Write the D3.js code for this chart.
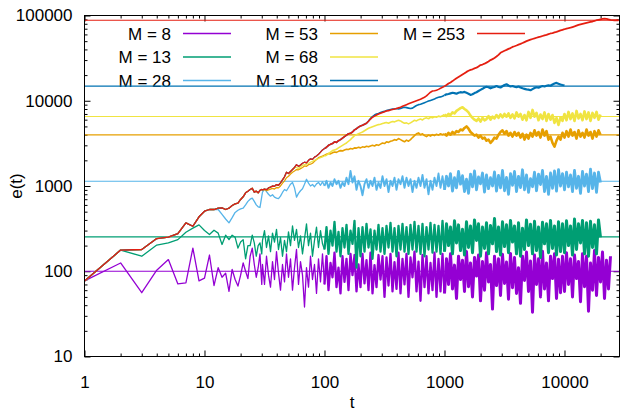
<!DOCTYPE html>
<html>
<head>
<meta charset="utf-8">
<script src="https://cdn.jsdelivr.net/npm/d3@7"></script>
<style>
  body { margin: 0; background: #fff; }
  svg { display: block; }
  text { font-family: "Liberation Sans", Arial, sans-serif; font-size: 17px; fill: #000; }
</style>
</head>
<body>
<svg id="chart" width="625" height="411"></svg>
<script>
// Run sizes, colours and the saturation level reached by each run
const sizes = [8, 13, 28, 53, 68, 103, 253];
const colors = ["#9400d3", "#009e73", "#56b4e9", "#e69f00", "#f0e442", "#0072b2", "#e51e10"];
const plateau = [100, 253, 1138, 3980, 6530, 14830, 88100];
const xTickLabels = ["1", "10", "100", "1000", "10000"];
const yTickLabels = ["10", "100", "1000", "10000", "100000"];

// Output times: every step up to t = 30, then 60 log-spaced records per decade
const tEarly = d3.range(1, 31);
const tLate = d3.range(89, 269).map(k => Math.pow(10, k / 60));
const times = tEarly.concat(tLate);

// e(t) per run, one value per output time (blocks: t<=30 | 30-100 | 100-1000 | 1000-10000 | >10000)
const e8 = [
  77,125,56,103,137,71,73,187,77,83, 155,68,110,85,95,58,105,80,67,90, 125,100,82,150,187,120,85,110,160,70,
  120,70,150,90,65,130,80,170,95,60, 120,75,160,85,140,60,110,180,70,130, 90,38,110,65,150,80,120,55,140,75, 160,
  70,150,60,125,85,165,65,110,55,150, 75,140,60,160,90,155,58,120,65,160, 72,135,60,165,55,118,65,155,80,150,
  50,145,68,160,58,128,62,165,55,140, 70,160,50,145,85,170,58,130,45,155, 65,150,55,125,60,165,50,140,58,160,
  55,140,70,160,62,118,48,150,80,135, 58,170,66,125,50,145,88,155,45,130, 60,165,75,120,36,150,68,140,52,158,
  72,128,47,162,64,145,55,110,42,150, 78,168,58,132,33,155,70,140,50,172, 62,125,45,150,82,160,48,138,56,150,
  58,165,70,140,50,155,82,130,44,160, 66,150,34,125,60,175,52,145,75,168, 48,135,62,150
];
const e13 = [
  77,177,150,203,215,235,287,320,350,300, 270,303,280,206,265,235,265,250,187,220, 235,140,200,200,265,215,150,200,215,160,
  230,300,190,260,170,280,220,310,180,250, 150,230,170,290,200,340,230,310,190,260, 160,240,360,200,280,150,230,330,190,300, 210,
  180,330,160,300,200,380,170,290,150,320, 190,350,160,300,210,390,110,320,150,330, 170,360,190,310,140,300,180,350,170,320,
  160,340,190,370,170,320,150,340,180,360, 170,330,160,350,180,380,170,340,160,360, 150,330,180,370,165,350,170,340,160,390,
  170,360,200,330,160,390,215,350,175,310, 155,380,190,340,165,400,230,360,150,330, 185,370,160,345,210,415,170,330,155,380,
  195,350,165,395,220,340,160,370,150,320, 180,400,200,355,160,385,175,330,145,375, 210,360,165,395,185,340,155,380,170,360,
  165,390,200,340,155,410,180,360,215,395, 160,370,150,385,190,350,160,400,250
];
const e28 = [
  77,177,180,242,251,277,370,337,435,506, 530,530,530,465,410,370,425,490,520,540, 550,600,660,700,720,660,600,570,560,750,
  850,920,860,800,760,790,740,720,710,760, 840,910,880,960,1050,1100,950,740,820,880, 930,1050,1200,1080,1000,1040,980,1060,1100,1020, 1120,
  1000,1150,950,1100,1000,1200,1050,1150,950,1100, 1000,1250,1050,1500,1100,1300,900,1150,1000,780, 1050,1200,950,1150,1000,1250,900,1100,950,1300,
  1000,1200,850,1150,1000,1250,900,1200,1050,1300, 950,1250,1000,1200,850,1150,950,1250,1000,1350, 950,1200,800,1150,900,1250,1000,1400,950,1300,
  900,1300,1000,1400,870,1250,950,1480,1050,1320, 860,1200,820,1380,980,1500,900,1280,1060,1420, 850,1350,930,1250,1000,1460,870,1330,950,1520,
  880,1260,800,1400,1020,1480,860,1300,960,1550, 900,1350,840,1220,980,1450,880,1380,1040,1520, 860,1300,800,1420,940,1500,870,1560,1000,1400,
  900,1450,980,1350,860,1520,940,1300,820,1480, 1000,1380,860,1580,930,1420,840,1450,1100
];
const e53 = [
  77,177,180,242,251,277,370,337,435,506, 530,530,549,555,530,550,590,618,630,695, 747,832,870,910,940,847,870,832,890,910,
  900,910,880,900,920,940,920,960,950,1000, 1080,1150,1250,1300,1380,1450,1500,1560,1550,1600, 1650,1720,1700,1780,1800,1850,1950,2050,2150,2200, 2250,
  2300,2350,2400,2380,2450,2500,2480,2550,2600,2580, 2650,2700,2680,2750,2720,2800,2780,2850,2800,2880, 2850,2920,2880,2950,3000,2950,3050,3000,3100,3200,
  3150,3300,3250,3350,3400,3500,3450,3600,3500,3400, 3300,3450,3350,3500,3700,3900,4100,4200,4000,4100, 3900,3800,3950,3850,4000,3900,4050,3950,4100,4000,
  4100,3900,4200,4000,4300,4100,4400,4300,4600,4500, 4800,5000,4700,4300,4100,3900,4000,3700,3900,3600, 3700,3400,3500,3200,3400,3700,3600,4000,4300,4500,
  4100,4400,3900,4200,3800,4300,3900,4200,3700,4100, 3500,4000,3600,4200,3800,4500,3900,4300,3700,4600, 3900,4400,3500,3800,3200,2900,3400,3800,3500,4200,
  3700,4400,3800,4600,3900,4300,3600,4500,3800,4200, 3700,4600,3900,4300,3600,4400,3800,4500,4000
];
const e68 = [
  77,177,180,242,251,277,370,337,435,506, 530,530,549,555,530,550,590,618,630,695, 747,832,870,910,940,847,870,832,890,910,
  900,920,905,950,970,1000,990,1040,1020,1090, 1180,1280,1450,1400,1480,1560,1650,1650,1600,1680, 1750,1780,1800,1850,1900,1950,2000,2050,2100,2150, 2200,
  2250,2300,2400,2500,2600,2650,2700,2800,2900,3000, 3100,3200,3350,3500,3700,3900,4000,4100,4200,4300, 4450,4600,4750,4850,4950,5050,5150,5250,5300,5400,
  5500,5550,5450,5600,5700,5650,5800,5900,5800,5600, 5450,5500,5350,5500,5700,5900,5800,6000,6100,5950, 6200,6300,6150,6400,6300,6500,6400,6600,6500,6700,
  6900,6600,7000,6800,7300,7100,7600,7900,8200,8400, 8000,7700,7300,6700,6300,6000,5800,6200,5700,6300, 5900,6100,6600,6000,6500,6200,6800,6300,6900,6400,
  7000,6500,7100,6300,6900,6200,7300,6500,7000,6000, 6800,5900,7400,6300,7800,6500,7200,5900,6900,6100, 7300,5800,7000,6000,6800,5500,6300,5200,6400,5800,
  7000,5900,7400,6100,7100,5800,7600,6200,7000,5900, 7500,6100,7300,5800,7200,6300,7400,6000,6900
];
const e103 = [
  77,177,180,242,251,277,370,337,435,506, 530,530,549,555,530,550,590,618,630,695, 747,832,870,910,940,847,870,832,890,910,
  900,920,905,950,970,1000,990,1040,1020,1090, 1180,1280,1450,1400,1480,1560,1650,1780,1700,1760, 1850,1900,1870,2000,2080,2050,2180,2250,2350,2500, 2650,
  2750,2850,3000,3080,3150,3300,3250,3400,3500,3650, 3800,3950,4100,4150,4300,4550,4700,4900,5050,5150, 5300,5450,5800,6200,6500,6800,7000,7100,7300,7400,
  7500,7700,7800,7900,8000,8000,8100,8000,8100,8300, 8400,8300,8200,8100,8200,8500,8800,9000,9100,9300, 9500,9700,9900,10100,10300,10500,10800,11000,11100,11300,
  11600,11900,12000,12200,12400,12300,12100,12400,12600,12500, 12700,12400,12100,11700,11900,12300,12600,13000,13400,13800, 14300,14600,14400,14000,14300,14500,14900,14500,14300,14800,
  15300,15600,15100,14700,14900,14600,14400,14700,14300,14000, 13800,13600,13500,13300,13700,14100,14400,14200,14600,14900, 14700,15000,15200,15000,15500,15900,16200,15800,15500,15300,
  15200
];
const e253 = [
  77,177,180,242,251,277,370,337,435,506, 530,530,549,555,530,550,590,618,630,695, 747,832,870,910,940,847,870,832,890,910,
  900,920,905,950,970,1000,990,1040,1020,1090, 1180,1280,1450,1400,1480,1560,1650,1780,1700,1760, 1850,1900,1870,2000,2080,2050,2180,2250,2350,2500, 2650,
  2750,2850,3000,3080,3150,3300,3250,3400,3500,3650, 3800,3950,4100,4150,4300,4550,4700,4900,5050,5150, 5300,5450,5750,6100,6400,6600,6800,7000,7150,7300,
  7450,7600,7650,7800,7900,8000,8100,8250,8400,8600, 8800,9000,9200,9400,9600,9800,10000,10200,10400,10700, 11000,11400,12000,12600,13000,13100,13300,13600,14000,14400,
  14800,15300,15900,16400,17000,17700,18400,19000,19600,20300, 21000,21800,22500,23000,23400,24000,24400,25300,26200,26600, 27200,28000,28900,30000,30800,31800,33000,34500,36500,37600,
  38600,39500,40600,41500,42800,43600,44500,45600,46500,47600, 48800,50000,51000,52000,53000,53800,54800,55800,56400,57500, 58600,59400,60500,61500,62300,63300,64200,65500,67000,68000,
  69000,70200,71000,72000,73200,74500,76000,77500,78800,80000, 81000,82000,83000,84000,85000,86500,88000,89000,90000,91000, 92000,91500,90000,89000,88500,88000,88200,87800
];
const runs = [e8, e13, e28, e53, e68, e103, e253];

const svg = d3.select("#chart");
const pL = 84.5, pR = 619.5, pT = 15.5, pB = 356.5;

const x = d3.scaleLog().domain([1, 28730]).range([pL, pR]);
const y = d3.scaleLog().domain([10, 100000]).range([pB, pT]);

const majorX = xTickLabels.map(Number);
const majorY = yTickLabels.map(Number);
const minorX = [], minorY = [];
for (let d = 1; d <= 10000; d *= 10) for (let m = 2; m <= 9; m++) if (d * m < 28730) minorX.push(d * m);
for (let d = 10; d < 100000; d *= 10) for (let m = 2; m <= 9; m++) minorY.push(d * m);

function styleAxis(g) {
  g.select(".domain").remove();
  g.selectAll("line").attr("stroke", "#000").attr("stroke-width", 1);
  g.selectAll("text").attr("font-family", null).attr("font-size", null);
}

// Major and minor ticks, pointing inward on all four sides
svg.append("g").attr("transform", `translate(0,${pB})`)
  .call(d3.axisBottom(x).tickValues(majorX).tickFormat((d, i) => xTickLabels[i]).tickSizeInner(-6).tickSizeOuter(0).tickPadding(19))
  .call(styleAxis);
svg.append("g").attr("transform", `translate(0,${pB})`)
  .call(d3.axisBottom(x).tickValues(minorX).tickFormat("").tickSizeInner(-3).tickSizeOuter(0)).call(styleAxis);
svg.append("g").attr("transform", `translate(0,${pT})`)
  .call(d3.axisTop(x).tickValues(majorX).tickFormat("").tickSizeInner(-6).tickSizeOuter(0)).call(styleAxis);
svg.append("g").attr("transform", `translate(0,${pT})`)
  .call(d3.axisTop(x).tickValues(minorX).tickFormat("").tickSizeInner(-3).tickSizeOuter(0)).call(styleAxis);
svg.append("g").attr("transform", `translate(${pL},0)`)
  .call(d3.axisLeft(y).tickValues(majorY).tickFormat((d, i) => yTickLabels[i]).tickSizeInner(-6).tickSizeOuter(0).tickPadding(12))
  .call(styleAxis);
svg.append("g").attr("transform", `translate(${pL},0)`)
  .call(d3.axisLeft(y).tickValues(minorY).tickFormat("").tickSizeInner(-3).tickSizeOuter(0)).call(styleAxis);
svg.append("g").attr("transform", `translate(${pR},0)`)
  .call(d3.axisRight(y).tickValues(majorY).tickFormat("").tickSizeInner(-6).tickSizeOuter(0)).call(styleAxis);
svg.append("g").attr("transform", `translate(${pR},0)`)
  .call(d3.axisRight(y).tickValues(minorY).tickFormat("").tickSizeInner(-3).tickSizeOuter(0)).call(styleAxis);

// Axis titles
svg.append("text").attr("x", (pL + pR) / 2).attr("y", 408).attr("text-anchor", "middle").text("t");
svg.append("text").attr("transform", `translate(22,${(pT + pB) / 2}) rotate(-90)`)
  .attr("text-anchor", "middle").text("e(t)");

// Key: three columns, three rows
const keyTextEnd = [171, 318, 465];
const keyRows = [33.5, 57, 80.5];
const key = svg.append("g");
sizes.forEach((m, i) => {
  const cx = keyTextEnd[Math.floor(i / 3)], cy = keyRows[i % 3];
  key.append("text").attr("x", cx).attr("y", cy).attr("dy", "0.36em").attr("text-anchor", "end").text(`M = ${m}`);
  key.append("line").attr("x1", cx + 12).attr("x2", cx + 60).attr("y1", cy).attr("y2", cy)
    .style("stroke", colors[i]).style("stroke-width", "1.3px");
});

// Plot area clip
svg.append("clipPath").attr("id", "plot").append("rect")
  .attr("x", pL).attr("y", pT).attr("width", pR - pL).attr("height", pB - pT);
const plot = svg.append("g").attr("clip-path", "url(#plot)");

// Saturation levels
plot.selectAll("line.level").data(plateau).join("line").attr("class", "level")
  .attr("x1", pL).attr("x2", pR)
  .attr("y1", d => y(d)).attr("y2", d => y(d))
  .attr("stroke", (d, i) => colors[i]).attr("stroke-width", 1.1);

// Time series: thin where records are sparse, heavier where the records crowd together
const line = d3.line().x(d => x(d[0])).y(d => y(d[1]));
const midWidth = [2.3, 2.3, 1.9, 1.6, 1.6, 1.6, 1.6];
const lateWidth = [3.0, 3.0, 2.8, 2.6, 2.6, 2.2, 1.8];
runs.forEach((vals, i) => {
  const pts = vals.map((v, j) => [times[j], v]);
  const parts = [[pts.slice(0, 62), 1.3], [pts.slice(61, 122), midWidth[i]], [pts.slice(121), lateWidth[i]]];
  parts.forEach(([seg, w]) => {
    if (seg.length < 2) return;
    plot.append("path").attr("d", line(seg)).attr("fill", "none")
      .attr("stroke", colors[i]).attr("stroke-width", w).attr("stroke-linejoin", "round");
  });
});

// Frame
svg.append("rect").attr("x", pL).attr("y", pT).attr("width", pR - pL).attr("height", pB - pT)
  .attr("fill", "none").attr("stroke", "#000").attr("stroke-width", 1);
</script>
</body>
</html>
